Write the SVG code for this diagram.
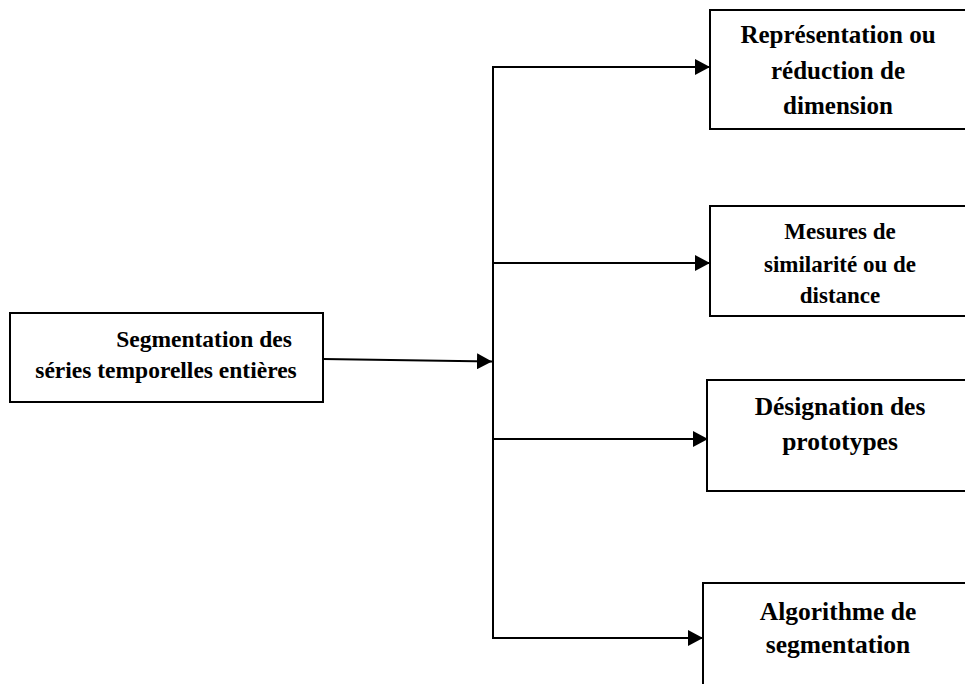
<svg xmlns="http://www.w3.org/2000/svg" width="965" height="684" viewBox="0 0 965 684">
<defs>
<marker id="ah" markerUnits="userSpaceOnUse" markerWidth="16" markerHeight="16" refX="15" refY="8" orient="auto">
<path d="M0,0 L15,8 L0,16 Z" fill="#000"/>
</marker>
<style>
.box{fill:#fff;stroke:#000;stroke-width:2}
.t{font-family:"Liberation Serif","Times New Roman",serif;font-weight:bold;fill:#000;text-anchor:middle}
.c{fill:none;stroke:#000;stroke-width:2}
</style>
</defs>
<rect width="965" height="684" fill="#fff"/>
<g id="connectors">
<line class="c" x1="493" y1="66" x2="493" y2="638"/>
<line class="c" x1="323" y1="359" x2="492" y2="361.5" marker-end="url(#ah)"/>
<line class="c" x1="492" y1="67" x2="710" y2="67" marker-end="url(#ah)"/>
<line class="c" x1="492" y1="263" x2="710" y2="263" marker-end="url(#ah)"/>
<line class="c" x1="492" y1="439" x2="708" y2="439" marker-end="url(#ah)"/>
<line class="c" x1="492" y1="638" x2="703" y2="638" marker-end="url(#ah)"/>
</g>
<g id="n0">
<rect class="box" x="10" y="313" width="313" height="89"/>
<text class="t" font-size="23.5" x="204" y="347">Segmentation des</text>
<text class="t" font-size="23.5" x="166" y="378">séries temporelles entières</text>
</g>
<g id="n1">
<rect class="box" x="710" y="10" width="265" height="119"/>
<text class="t" font-size="25" x="838" y="43">Représentation ou</text>
<text class="t" font-size="25" x="838" y="79">réduction de</text>
<text class="t" font-size="25" x="838" y="114">dimension</text>
</g>
<g id="n2">
<rect class="box" x="710" y="206" width="265" height="110"/>
<text class="t" font-size="23" x="840" y="239">Mesures de</text>
<text class="t" font-size="23" x="840" y="272">similarité ou de</text>
<text class="t" font-size="23" x="840" y="303">distance</text>
</g>
<g id="n3">
<rect class="box" x="707" y="380" width="268" height="111"/>
<text class="t" font-size="25.5" x="840" y="415">Désignation des</text>
<text class="t" font-size="25.5" x="840" y="450">prototypes</text>
</g>
<g id="n4">
<rect class="box" x="703" y="583" width="272" height="120"/>
<text class="t" font-size="25.5" x="838" y="620">Algorithme de</text>
<text class="t" font-size="25.5" x="838" y="653">segmentation</text>
</g>
</svg>
